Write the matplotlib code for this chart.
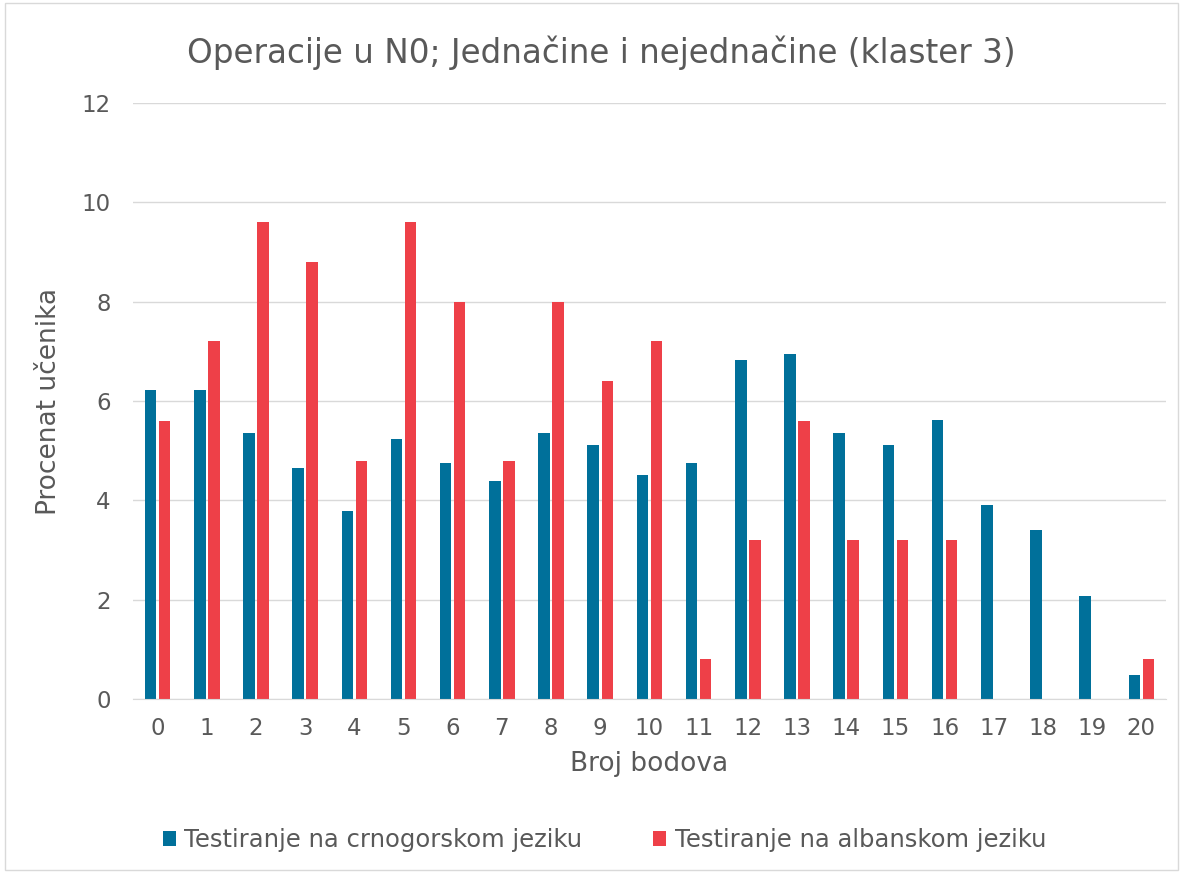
import matplotlib
matplotlib.use("Agg")
import matplotlib.pyplot as plt
import numpy as np
from matplotlib.patches import Rectangle

categories = [str(i) for i in range(21)]
crnogorski = [6.22, 6.22, 5.36, 4.65, 3.79, 5.24, 4.75, 4.39, 5.36, 5.12, 4.52, 4.75,
              6.83, 6.95, 5.36, 5.12, 5.61, 3.90, 3.41, 2.07, 0.49]
albanski = [5.6, 7.2, 9.6, 8.8, 4.8, 9.6, 8.0, 4.8, 8.0, 6.4, 7.2, 0.8,
            3.2, 5.6, 3.2, 3.2, 3.2, 0, 0, 0, 0.8]
series_names = ["Testiranje na crnogorskom jeziku", "Testiranje na albanskom jeziku"]
colors = ["#00709A", "#EE4048"]
title = "Operacije u N0; Jednačine i nejednačine (klaster 3)"

plt.rcParams['font.family'] = ['DejaVu Sans']
fig = plt.figure(figsize=(11.83, 8.73), dpi=100)
fig.patches.append(Rectangle((0.004, 0.003), 0.992, 0.994, transform=fig.transFigure,
                             fill=False, edgecolor="#D9D9D9", linewidth=1))
ax = fig.add_axes([0.1124, 0.1993, 0.8732, 0.6827])

x = np.arange(len(categories))
w = 0.235
gap = 0.05
ax.bar(x - w/2 - gap/2, crnogorski, width=w, color=colors[0], label=series_names[0], zorder=3)
ax.bar(x + w/2 + gap/2, albanski, width=w, color=colors[1], label=series_names[1], zorder=3)

ax.set_xlim(-0.5, len(categories) - 0.5)
ax.set_ylim(0, 12)
ax.set_yticks(range(0, 13, 2))
ax.set_xticks(x)
ax.set_xticklabels(categories)
ax.grid(axis='y', color="#D9D9D9", linewidth=1, zorder=0)
for s in ["top", "right", "left"]:
    ax.spines[s].set_visible(False)
ax.spines["bottom"].set_color("#D9D9D9")
ax.spines["bottom"].set_zorder(4)
ax.tick_params(axis='both', length=0, labelsize=16.5, colors="#595959")
ax.tick_params(axis='x', pad=13)
ax.tick_params(axis='y', pad=16)
ax.set_xlabel("Broj bodova", fontsize=19, color="#595959", labelpad=8)
ax.set_ylabel("Procenat učenika", fontsize=19, color="#595959", labelpad=14)
fig.text(0.508, 0.94, title, ha='center', va='center', fontsize=23.5, color="#595959")

handles, labels = ax.get_legend_handles_labels()
fig.legend(handles, labels, loc='center', bbox_to_anchor=(0.511, 0.038), ncol=2, frameon=False,
           fontsize=17.5, labelcolor="#595959", handlelength=0.55, handleheight=0.55,
           handletextpad=0.35, columnspacing=2.9)

fig.savefig("out.png", dpi=100)
